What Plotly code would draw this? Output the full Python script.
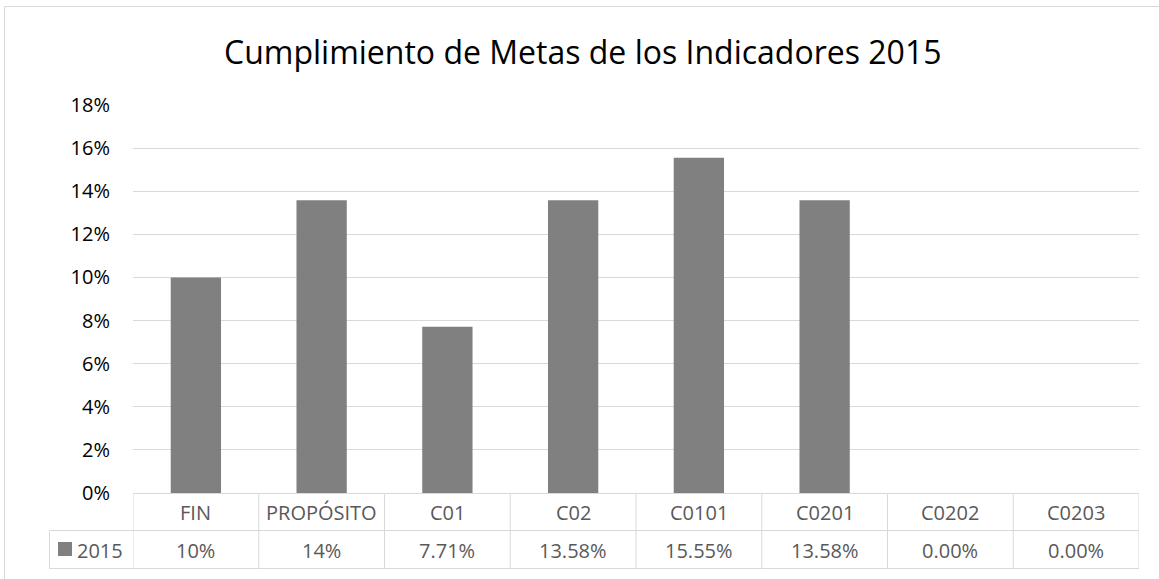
import plotly.graph_objects as go

categories = ["FIN", "PROPÓSITO", "C01", "C02", "C0101", "C0201", "C0202", "C0203"]
values_2015 = [0.10, 0.1358, 0.0771, 0.1358, 0.1555, 0.1358, 0.0, 0.0]
table_labels = ["10%", "14%", "7.71%", "13.58%", "15.55%", "13.58%", "0.00%", "0.00%"]
series_name = "2015"
title_text = "Cumplimiento de Metas de los Indicadores 2015"
y_ticks = [0, 0.02, 0.04, 0.06, 0.08, 0.10, 0.12, 0.14, 0.16, 0.18]

W, H = 1159, 579
L, R, T, B = 133, 1139, 105, 493
PW, PH = R - L, B - T

def px_x(px):
    return (px - L) / PW

def px_y(py):
    return (B - py) / PH

FONT = "Open Sans"
GRID = "#d9d9d9"
TXT = "#595959"
BAR = "#808080"

fig = go.Figure()
fig.add_trace(go.Bar(
    x=list(range(len(categories))), y=values_2015, name=series_name,
    marker=dict(color=BAR, line=dict(width=0)), showlegend=False,
))

n = len(categories)
shapes = []
line = dict(color=GRID, width=1)
# chart border
shapes.append(dict(type="rect", xref="paper", yref="paper",
                   x0=px_x(4.5), x1=px_x(1170), y0=px_y(6.5), y1=px_y(600),
                   line=line, fillcolor="rgba(0,0,0,0)", layer="below"))
# table horizontal lines
row1_top, row2_top, row_bot = 493.5, 530.5, 568.5
shapes.append(dict(type="line", xref="paper", yref="paper", x0=0, x1=1,
                   y0=px_y(row1_top), y1=px_y(row1_top), line=line))
for yy in (row2_top, row_bot):
    shapes.append(dict(type="line", xref="paper", yref="paper", x0=px_x(49.5), x1=1,
                       y0=px_y(yy), y1=px_y(yy), line=line))
# table vertical lines
shapes.append(dict(type="line", xref="paper", yref="paper", x0=px_x(49.5), x1=px_x(49.5),
                   y0=px_y(row2_top), y1=px_y(row_bot), line=line))
for i in range(n + 1):
    xv = i - 0.5
    shapes.append(dict(type="line", xref="x", yref="paper", x0=xv, x1=xv,
                       y0=px_y(row1_top), y1=px_y(row_bot), line=line))
# legend key square
shapes.append(dict(type="rect", xref="paper", yref="paper",
                   x0=px_x(58), x1=px_x(72), y0=px_y(556), y1=px_y(542),
                   line=dict(width=0), fillcolor=BAR))

annotations = []
for i, (c, v) in enumerate(zip(categories, table_labels)):
    annotations.append(dict(x=i, xref="x", y=px_y(512), yref="paper", text=c,
                            showarrow=False, font=dict(family=FONT, size=20, color=TXT),
                            xanchor="center", yanchor="middle"))
    annotations.append(dict(x=i, xref="x", y=px_y(550), yref="paper", text=v,
                            showarrow=False, font=dict(family=FONT, size=20, color=TXT),
                            xanchor="center", yanchor="middle"))
# legend text
annotations.append(dict(x=px_x(75), xref="paper", y=px_y(550), yref="paper",
                        text=series_name,
                        showarrow=False, font=dict(family=FONT, size=20, color=TXT),
                        xanchor="left", yanchor="middle"))
# title
annotations.append(dict(x=px_x(582.5), xref="paper", y=px_y(51), yref="paper",
                        text=title_text, showarrow=False,
                        font=dict(family=FONT, size=32, color="#000000"),
                        xanchor="center", yanchor="middle"))

fig.update_layout(
    width=W, height=H,
    margin=dict(l=L, r=W - R, t=T, b=H - B, pad=0),
    paper_bgcolor="white", plot_bgcolor="white",
    bargap=0.6,
    xaxis=dict(range=[-0.5, n - 0.5], showticklabels=False, showgrid=False,
               zeroline=False, showline=False, ticks=""),
    yaxis=dict(range=[0, 0.18], tickvals=y_ticks, tickformat=".0%",
               showgrid=True, gridcolor=GRID, gridwidth=1, zeroline=False,
               showline=False, ticks="", ticklabelstandoff=22,
               tickfont=dict(family=FONT, size=20, color="#000000")),
    shapes=shapes, annotations=annotations,
)
fig.write_html("out.html", config={"displayModeBar": False},
               post_script="document.body.style.margin='0';document.body.style.padding='0';")
